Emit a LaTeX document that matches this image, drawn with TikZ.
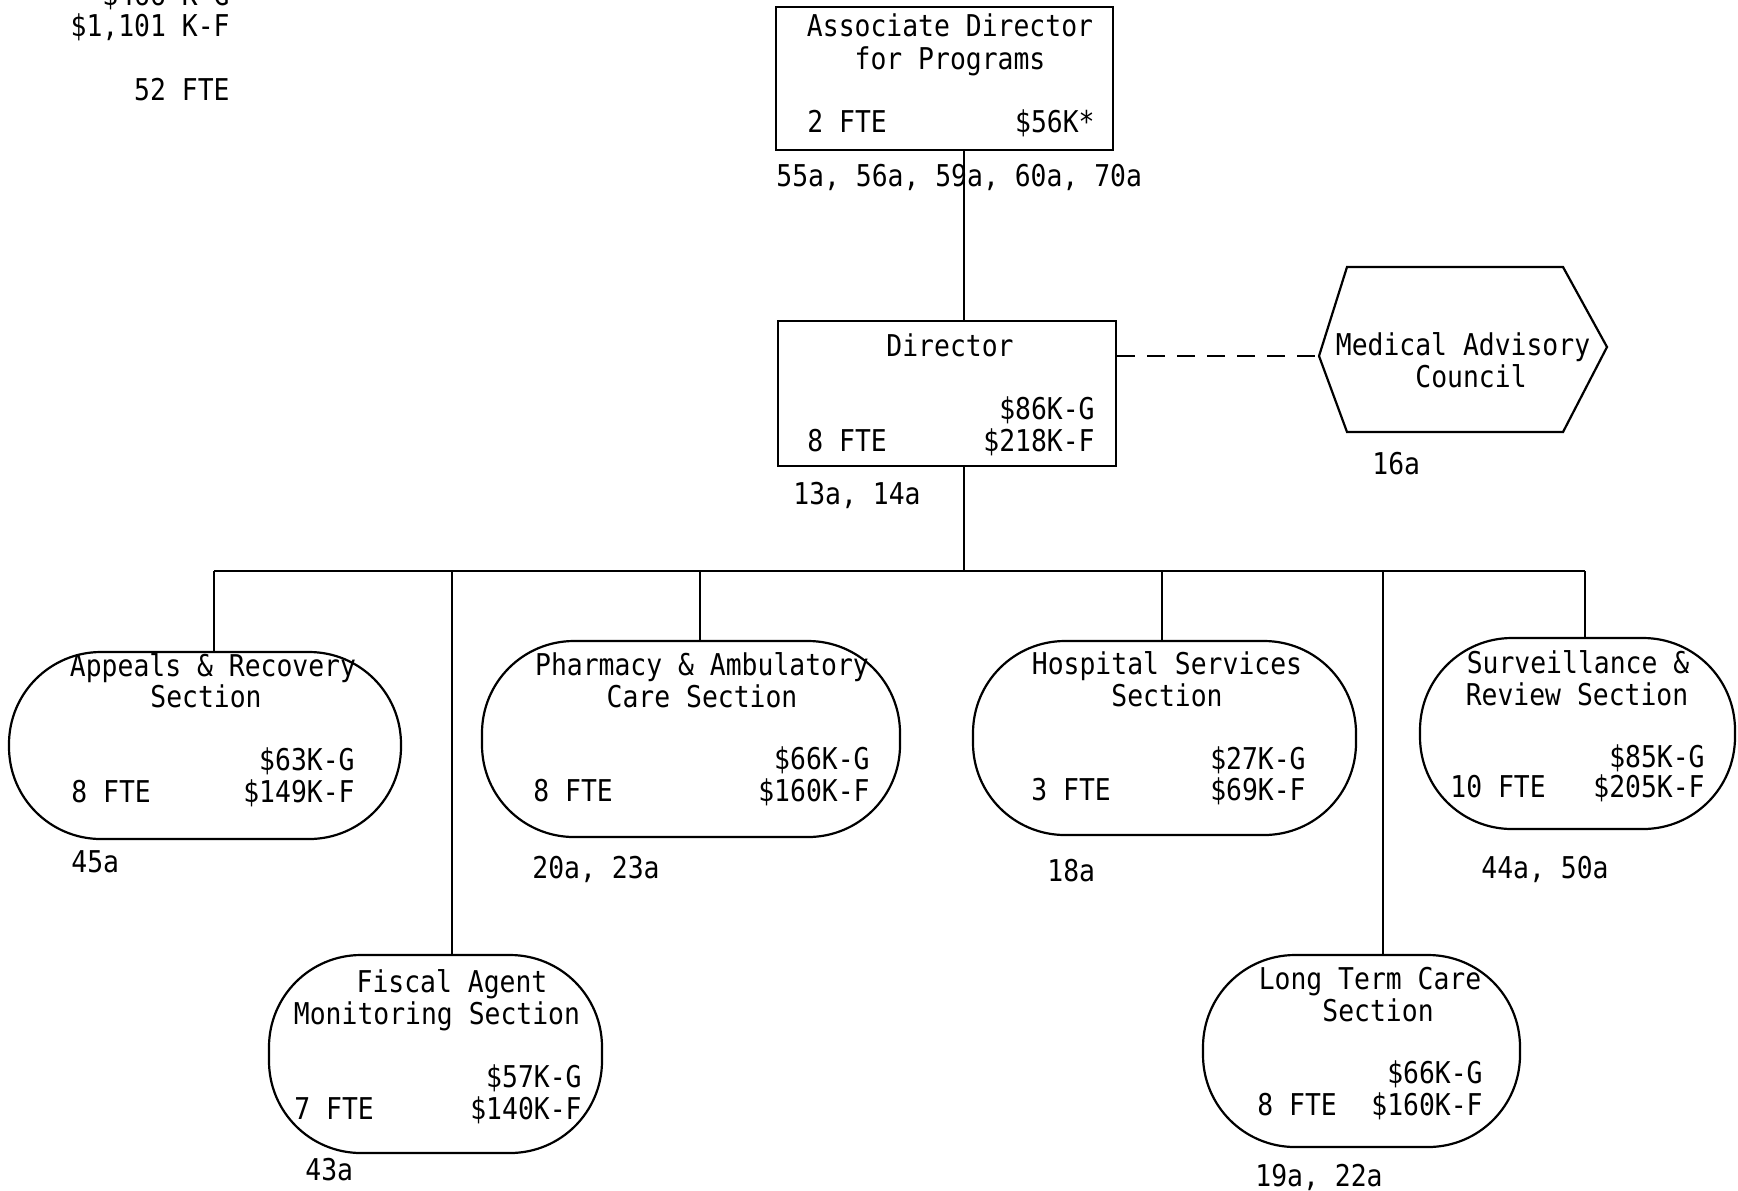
\documentclass[tikz,border=0pt]{standalone}
\usepackage{fontspec}
\newfontfamily\typer[FakeStretch=0.88]{DejaVu Sans Mono}
\usetikzlibrary{calc}

\tikzset{
    txt/.style={font=\typer\fontsize{15}{15}\selectfont, inner sep=0pt},
    office/.style={draw, line width=1.1pt, inner sep=0pt},
    section/.style={draw, line width=1.1pt, inner sep=0pt, rounded corners=46pt},
    link/.style={line width=1.1pt}
}

\begin{document}
\begin{tikzpicture}[x=0.5pt, y=-0.5pt]
    \useasboundingbox (0,0) rectangle (1738,1190);

    % Totals (top left)
    \node[txt, anchor=base east] (totg) at (230,5) {\$466 K-G};
    \node[txt, anchor=base east] (totf) at (230,36) {\$1,101 K-F};
    \node[txt, anchor=base east] (totfte) at (230,100) {52 FTE};

    % Associate Director
    \node[office, minimum width=168.5pt, minimum height=71.5pt] (ad) at (944.5,78.5) {};
    \node[txt, anchor=base] (adt1) at (950,36) {Associate Director};
    \node[txt, anchor=base] (adt2) at (950,69) {for Programs};
    \node[txt, anchor=base west] (adfte) at (807,132) {2 FTE};
    \node[txt, anchor=base east] (adk) at (1095,132) {\$56K*};
    \node[txt, anchor=base west] (adref) at (776,186) {55a, 56a, 59a, 60a, 70a};

    % Director
    \node[office, minimum width=169pt, minimum height=72.5pt] (dir) at (947,393.5) {};
    \node[txt, anchor=base] (dirt) at (950,356) {Director};
    \node[txt, anchor=base east] (dirg) at (1095,419) {\$86K-G};
    \node[txt, anchor=base west] (dirfte) at (807,451) {8 FTE};
    \node[txt, anchor=base east] (dirf) at (1095,451) {\$218K-F};
    \node[txt, anchor=base west] (dirref) at (793,504) {13a, 14a};

    % Medical Advisory Council (hexagon)
    \coordinate (mac) at (1319,356);
    \draw[link] (mac) -- (1347,267) -- (1563,267) -- (1607,347) -- (1563,432) -- (1347,432) -- cycle;
    \node[txt, anchor=base] (mact1) at (1463,355) {Medical Advisory};
    \node[txt, anchor=base] (mact2) at (1471,387) {Council};
    \node[txt, anchor=base west] (macref) at (1372,474) {16a};

    % Sections
    \node[section, minimum width=196pt, minimum height=93.5pt] (appeals) at (205,745.5) {};
    \node[txt, anchor=base] at (213,676) {Appeals \& Recovery};
    \node[txt, anchor=base] at (206,707) {Section};
    \node[txt, anchor=base east] at (355,770) {\$63K-G};
    \node[txt, anchor=base west] at (71,802) {8 FTE};
    \node[txt, anchor=base east] at (355,802) {\$149K-F};
    \node[txt, anchor=base west] at (71,872) {45a};

    \node[section, minimum width=209pt, minimum height=98pt] (pharm) at (691,739) {};
    \node[txt, anchor=base] at (702,675) {Pharmacy \& Ambulatory};
    \node[txt, anchor=base] at (702,707) {Care Section};
    \node[txt, anchor=base east] at (870,769) {\$66K-G};
    \node[txt, anchor=base west] at (533,801) {8 FTE};
    \node[txt, anchor=base east] at (870,801) {\$160K-F};
    \node[txt, anchor=base west] at (532,878) {20a, 23a};

    \node[section, minimum width=191.5pt, minimum height=97pt] (hosp) at (1164.5,738) {};
    \node[txt, anchor=base] at (1167,674) {Hospital Services};
    \node[txt, anchor=base] at (1167,706) {Section};
    \node[txt, anchor=base east] at (1306,769) {\$27K-G};
    \node[txt, anchor=base west] at (1031,800) {3 FTE};
    \node[txt, anchor=base east] at (1306,800) {\$69K-F};
    \node[txt, anchor=base west] at (1047,881) {18a};

    \node[section, minimum width=157.5pt, minimum height=95.5pt] (surv) at (1577.5,733.5) {};
    \node[txt, anchor=base] at (1578,673) {Surveillance \&};
    \node[txt, anchor=base] at (1577,705) {Review Section};
    \node[txt, anchor=base east] at (1705,767) {\$85K-G};
    \node[txt, anchor=base west] at (1450,797) {10 FTE};
    \node[txt, anchor=base east] at (1705,797) {\$205K-F};
    \node[txt, anchor=base west] at (1481,878) {44a, 50a};

    \node[section, minimum width=166.5pt, minimum height=99pt] (fiscal) at (435.5,1054) {};
    \node[txt, anchor=base] at (452,992) {Fiscal Agent};
    \node[txt, anchor=base] at (437,1024) {Monitoring Section};
    \node[txt, anchor=base east] at (582,1087) {\$57K-G};
    \node[txt, anchor=base west] at (294,1119) {7 FTE};
    \node[txt, anchor=base east] at (582,1119) {\$140K-F};
    \node[txt, anchor=base west] at (305,1180) {43a};

    \node[section, minimum width=158.5pt, minimum height=96pt] (ltc) at (1361.5,1051) {};
    \node[txt, anchor=base] at (1370,989) {Long Term Care};
    \node[txt, anchor=base] at (1378,1021) {Section};
    \node[txt, anchor=base east] at (1483,1083) {\$66K-G};
    \node[txt, anchor=base west] at (1257,1115) {8 FTE};
    \node[txt, anchor=base east] at (1483,1115) {\$160K-F};
    \node[txt, anchor=base west] at (1255,1186) {19a, 22a};

    % Lines
    \coordinate (trunk) at (964,571);
    \coordinate (dAp) at (214,571);
    \coordinate (dFi) at (452,571);
    \coordinate (dPh) at (700,571);
    \coordinate (dHo) at (1162,571);
    \coordinate (dLt) at (1383,571);
    \coordinate (dSu) at (1585,571);

    \draw[link] (ad.south -| trunk) -- (dir.north -| trunk);
    \draw[link] (dir.south -| trunk) -- (trunk);
    \draw[link] (dAp) -- (dSu);
    \foreach \d/\n in {dAp/appeals, dFi/fiscal, dPh/pharm, dHo/hosp, dLt/ltc, dSu/surv}
        \draw[link] (\d) -- (\n.north -| \d);
    \draw[link, dash pattern=on 9pt off 6pt] (mac -| dir.east) -- (mac);
\end{tikzpicture}
\end{document}
